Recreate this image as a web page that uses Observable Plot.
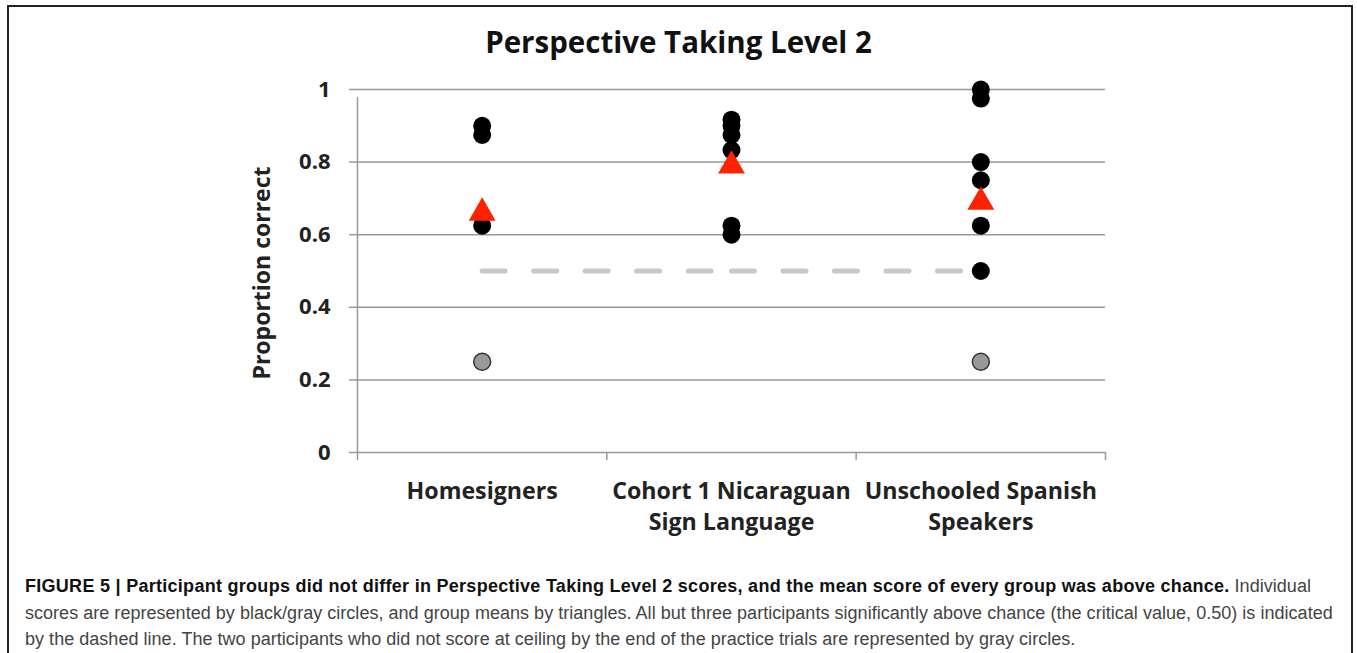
<!DOCTYPE html>
<html>
<head>
<meta charset="utf-8">
<script src="https://cdn.jsdelivr.net/npm/d3@7"></script>
<script src="https://cdn.jsdelivr.net/npm/@observablehq/plot@0.6"></script>
<style>
  html, body { margin: 0; padding: 0; background: #fff; }
  body { width: 1357px; height: 653px; position: relative; overflow: hidden; }
  #frame { position: absolute; left: 7px; top: 5px; width: 1346px; height: 700px; border: 2px solid #222; box-sizing: border-box; }
  #title { position: absolute; left: 0; width: 1357px; top: 21px; text-align: center; font-family: "Open Sans", sans-serif; font-weight: 700; font-size: 29.5px; color: #111; }
  #chart { position: absolute; left: 0; top: 0; }
  #caption { position: absolute; left: 25px; top: 573px; font-family: "Liberation Sans", Arial, sans-serif; font-size: 18px; line-height: 26.5px; color: #444; white-space: nowrap; letter-spacing: 0.03px; }
  #caption b { color: #111; letter-spacing: 0.28px; }
</style>
</head>
<body>
<div id="frame"></div>
<div id="chart"></div>
<div id="title">Perspective Taking Level 2</div>
<div id="caption">
  <div><b>FIGURE 5 | Participant groups did not differ in Perspective Taking Level 2 scores, and the mean score of every group was above chance.</b> Individual</div>
  <div>scores are represented by black/gray circles, and group means by triangles. All but three participants significantly above chance (the critical value, 0.50) is indicated</div>
  <div>by the dashed line. The two participants who did not score at ceiling by the end of the practice trials are represented by gray circles.</div>
</div>
<script>
// ---- data ----
const groups = ["Homesigners", "Cohort 1 Nicaraguan\nSign Language", "Unschooled Spanish\nSpeakers"];
const homesignerScores = [0.9, 0.875, 0.625];
const cohortScores = [0.917, 0.9, 0.875, 0.833, 0.625, 0.6];
const unschooledScores = [1.0, 0.975, 0.8, 0.75, 0.625, 0.5];
const grayScores = [[0, 0.25], [2, 0.25]]; // [group index, score]
const groupMeans = [0.66, 0.79, 0.69];
const chanceLevel = 0.5;
const yTicks = [0, 0.2, 0.4, 0.6, 0.8, 1];

// ---- build tables ----
const blackDots = [
  ...homesignerScores.map(v => ({g: 0.5, v})),
  ...cohortScores.map(v => ({g: 1.5, v})),
  ...unschooledScores.map(v => ({g: 2.5, v}))
];
const grayDots = grayScores.map(([i, v]) => ({g: i + 0.5, v}));
const means = groupMeans.map((v, i) => ({g: i + 0.5, v}));
const chanceSegs = [
  {x1: 0.5, x2: 1.5, y: chanceLevel},
  {x1: 1.5, x2: 2.5, y: chanceLevel}
];
const labels = groups.map((name, i) => ({g: i + 0.5, name}));

const W = 1357, H = 560;
const font = "'Open Sans', sans-serif";
const chart = Plot.plot({
  width: W,
  height: H,
  marginLeft: 357,
  marginRight: W - 1105,
  marginTop: 89,
  marginBottom: H - 452,
  style: {fontFamily: font, background: "transparent", overflow: "visible"},
  x: {domain: [0, 3], axis: null},
  y: {domain: [0, 1], axis: null},
  marks: [
    Plot.gridY(yTicks.slice(1), {stroke: "#999", strokeOpacity: 1, strokeWidth: 1.5}),
    Plot.axisY(yTicks, {
      tickSize: 8, tickPadding: 19, stroke: "#999", strokeWidth: 1.5,
      tickFormat: d => String(+d.toFixed(1)),
      fontSize: 22, fontWeight: 700, fill: "#222", label: null
    }),
    Plot.ruleX([0], {y1: 0, y2: 1, stroke: "#999", strokeWidth: 1.5, insetBottom: -8}),
    Plot.ruleY([0], {stroke: "#999", strokeWidth: 1.5}),
    Plot.axisX([0, 1, 2, 3], {tickSize: 8, tickFormat: () => "", stroke: "#999", strokeWidth: 1.5, label: null}),
    Plot.link(chanceSegs, {x1: "x1", x2: "x2", y1: "y", y2: "y", stroke: "#c8c8c8", strokeWidth: 5, strokeDasharray: "23,28.5", strokeLinecap: "round"}),
    Plot.dot(blackDots, {x: "g", y: "v", r: 9, fill: "#000", stroke: "none"}),
    Plot.dot(grayDots, {x: "g", y: "v", r: 8.5, fill: "#999", stroke: "#333", strokeWidth: 1.5}),
    Plot.dot(means, {x: "g", y: "v", r: 10, symbol: "triangle", fill: "#ff2200", stroke: "none"}),
    Plot.text(labels, {x: "g", text: "name", frameAnchor: "bottom", lineAnchor: "top", dy: 24, lineHeight: 1.36, fontSize: 23.2, fontWeight: 700, fill: "#222"}),
    Plot.text(["Proportion correct"], {frameAnchor: "left", textAnchor: "middle", rotate: -90, dx: -95, dy: 2, fontSize: 23, fontWeight: 700, fill: "#222"})
  ]
});
document.getElementById("chart").appendChild(chart);
</script>
</body>
</html>
